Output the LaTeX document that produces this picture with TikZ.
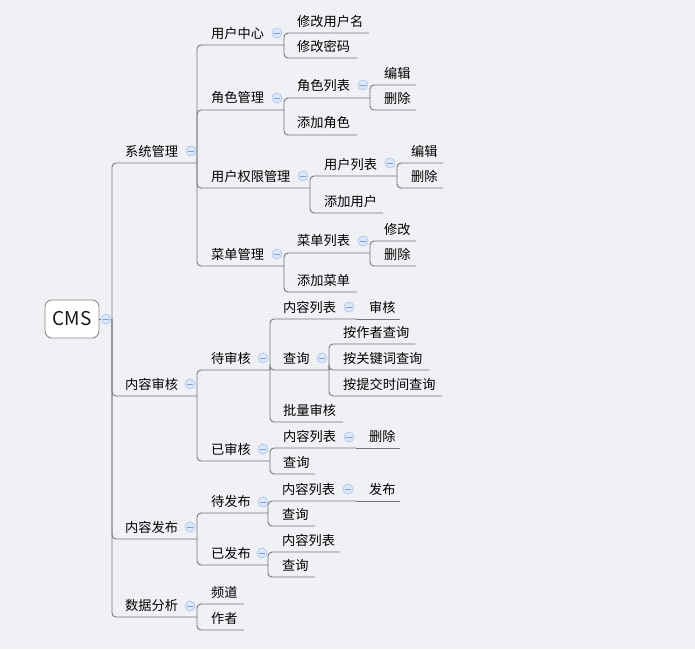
\documentclass[tikz,border=0pt]{standalone}
\usepackage{fontspec}
\setmainfont{Noto Sans CJK SC}
\definecolor{bgc}{HTML}{EEF0F3}
\definecolor{linec}{HTML}{767676}
\definecolor{mfill}{HTML}{DCE7FA}
\definecolor{mdraw}{HTML}{A9C2EC}
\definecolor{mdash}{HTML}{7F9FD6}
\definecolor{boxc}{HTML}{8A8A8A}
\tikzset{
  conn/.style={draw=linec, line width=0.9pt, rounded corners=4pt},
  topic/.style={inner sep=0pt, anchor=west, font=\fontsize{13.2}{14}\selectfont, text=black},
  rootbox/.style={draw=boxc, fill=white, rounded corners=7pt, line width=0.9pt, minimum width=54pt, minimum height=38pt, inner sep=0pt, font=\fontsize{19}{21}\selectfont, text=black!90},
  minus/.style={circle, minimum size=10pt, inner sep=0pt, fill=mfill, draw=mdraw, line width=0.6pt,
    path picture={\draw[mdash, line width=0.8pt] ([xshift=-2.6pt]path picture bounding box.center) -- ([xshift=2.6pt]path picture bounding box.center);}}
}
% #1 name, #2 parent end coordinate, #3 text left x, #4 underline y, #5 underline end x, #6 text
\newcommand\mt[6]{%
  \coordinate (#1-e) at (#5,#4);
  \draw[conn] (#2) |- (#1-e);
  \node[topic] (#1) at (#3,#4-12) {#6};
}
% single child on the same line as its parent
\newcommand\ms[6]{%
  \coordinate (#1-e) at (#5,#4);
  \draw[conn] (#2) -- (#1-e);
  \node[topic] (#1) at (#3,#4-12) {#6};
}
\newcommand\mm[2]{\node[minus] (#1) at (#2) {};}
\begin{document}
\begin{tikzpicture}[x=1pt,y=-1pt]
\fill[bgc] (0,0) rectangle (695,649);
\useasboundingbox (0,0) rectangle (695,649);
\foreach \yy in {0,3,...,648} {\draw[white, opacity=0.25, line width=0.6pt] (0,\yy) -- (695,\yy);}

\node[rootbox] (cms) at (72,319) {CMS};
\coordinate (cms-e) at (112,319);
\draw[conn] (cms.east) -- (cms-e);

% level 1
\mt{sys}{cms-e}{125}{163}{197}{系统管理}
\mt{rev}{cms-e}{125}{396}{197}{内容审核}
\mt{pub}{cms-e}{125}{539}{197}{内容发布}
\mt{ana}{cms-e}{125}{617}{197}{数据分析}

% 系统管理
\mt{uc}{sys-e}{211}{45}{284}{用户中心}
\mt{role}{sys-e}{211}{110}{284}{角色管理}
\mt{perm}{sys-e}{211}{188}{310}{用户权限管理}
\mt{menu}{sys-e}{211}{266}{284}{菜单管理}

\mt{uca}{uc-e}{297}{33}{369}{修改用户名}
\mt{ucb}{uc-e}{297}{58}{357}{修改密码}

\mt{rl}{role-e}{297}{98}{370}{角色列表}
\mt{rla}{rl-e}{384}{85}{416}{编辑}
\mt{rlb}{rl-e}{384}{110}{416}{删除}
\mt{ra}{role-e}{297}{135}{357}{添加角色}

\mt{ul}{perm-e}{324}{176}{397}{用户列表}
\mt{ula}{ul-e}{411}{163}{443}{编辑}
\mt{ulb}{ul-e}{411}{188}{443}{删除}
\mt{ua}{perm-e}{324}{213}{383}{添加用户}

\mt{ml}{menu-e}{297}{253}{370}{菜单列表}
\mt{mla}{ml-e}{384}{241}{416}{修改}
\mt{mlb}{ml-e}{384}{266}{416}{删除}
\mt{ma}{menu-e}{297}{292}{357}{添加菜单}

% 内容审核
\mt{pend}{rev-e}{211}{370}{270}{待审核}
\mt{pl}{pend-e}{283}{319}{356}{内容列表}
\ms{pla}{pl-e}{369}{319}{400}{审核}
\mt{pq}{pend-e}{283}{370}{329}{查询}
\mt{qa}{pq-e}{343}{344}{415}{按作者查询}
\mt{qb}{pq-e}{343}{370}{429}{按关键词查询}
\mt{qc}{pq-e}{343}{396}{442}{按提交时间查询}
\mt{pb}{pend-e}{283}{422}{343}{批量审核}

\mt{done}{rev-e}{211}{461}{270}{已审核}
\mt{dl}{done-e}{283}{448}{356}{内容列表}
\ms{dla}{dl-e}{369}{448}{400}{删除}
\mt{dq}{done-e}{283}{474}{315}{查询}

% 内容发布
\mt{wp}{pub-e}{211}{513}{268}{待发布}
\mt{wl}{wp-e}{282}{501}{356}{内容列表}
\ms{wla}{wl-e}{369}{501}{400}{发布}
\mt{wq}{wp-e}{282}{526}{315}{查询}

\mt{ep}{pub-e}{211}{565}{268}{已发布}
\mt{el}{ep-e}{282}{552}{340}{内容列表}
\mt{eq}{ep-e}{282}{577}{315}{查询}

% 数据分析
\mt{aa}{ana-e}{211}{604}{244}{频道}
\mt{ab}{ana-e}{211}{630}{244}{作者}

% collapse markers
\mm{m0}{106,319}
\mm{m1}{191,151}
\mm{m2}{190,384}
\mm{m3}{190,527}
\mm{m4}{190,606}
\mm{m5}{277,33}
\mm{m6}{277,98}
\mm{m7}{303,176}
\mm{m8}{277,254}
\mm{m9}{363,85}
\mm{m10}{390,163}
\mm{m11}{363,241}
\mm{m12}{263,358}
\mm{m13}{349,307}
\mm{m14}{322,358}
\mm{m15}{263,449}
\mm{m16}{349,437}
\mm{m17}{263,502}
\mm{m18}{348,489}
\mm{m19}{262,553}
\end{tikzpicture}
\end{document}
